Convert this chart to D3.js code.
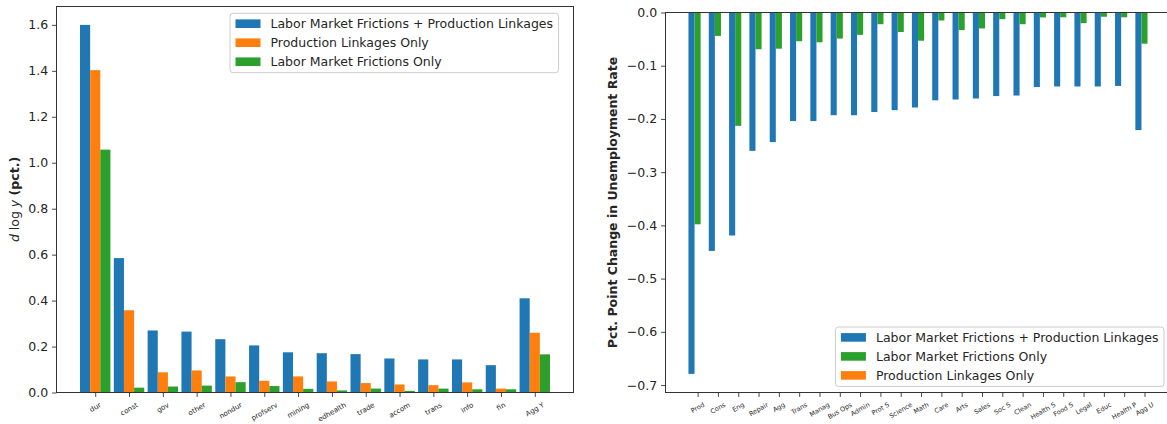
<!DOCTYPE html>
<html>
<head>
<meta charset="utf-8">
<script src="https://cdn.jsdelivr.net/npm/d3@7"></script>
<style>
  body { margin: 0; background: #fff; }
  svg { display: block; }
  text { font-family: "DejaVu Sans", sans-serif; fill: #262626; }
  .cat-labels text { text-rendering: geometricPrecision; }
</style>
</head>
<body>
<svg id="chart" width="1167" height="424"></svg>
<script>
// ---- Output response by sector (left panel) ----
const sectors = ["dur", "const", "gov", "other", "nondur", "profserv", "mining",
                 "edhealth", "trade", "accom", "trans", "info", "fin", "Agg Y"];
const outputBoth      = [1.600, 0.585, 0.270, 0.265, 0.232, 0.205, 0.175, 0.171, 0.167, 0.148, 0.144, 0.144, 0.119, 0.410];
const outputLinkages  = [1.403, 0.358, 0.088, 0.096, 0.070, 0.051, 0.070, 0.048, 0.041, 0.035, 0.032, 0.044, 0.017, 0.260];
const outputFrictions = [1.057, 0.021, 0.026, 0.030, 0.045, 0.028, 0.016, 0.009, 0.017, 0.007, 0.017, 0.014, 0.014, 0.166];
const outputTicks = [0.0, 0.2, 0.4, 0.6, 0.8, 1.0, 1.2, 1.4, 1.6];

// ---- Unemployment response by occupation (right panel) ----
const occupations = ["Prod", "Cons", "Eng", "Repair", "Agg", "Trans", "Manag", "Bus Ops",
                     "Admin", "Prot S", "Science", "Math", "Care", "Arts", "Sales", "Soc S",
                     "Clean", "Health S", "Food S", "Legal", "Educ", "Health P", "Agg U"];
const unempBoth      = [-0.679, -0.448, -0.419, -0.260, -0.2435, -0.204, -0.204, -0.193, -0.193, -0.187, -0.1835, -0.1785,
                        -0.165, -0.1635, -0.1616, -0.157, -0.156, -0.140, -0.139, -0.139, -0.139, -0.138, -0.221];
const unempFrictions = [-0.398, -0.044, -0.213, -0.069, -0.068, -0.054, -0.056, -0.049, -0.042, -0.022, -0.0367, -0.053,
                        -0.015, -0.033, -0.030, -0.0125, -0.022, -0.0093, -0.009, -0.020, -0.008, -0.009, -0.0586];
const unempLinkages  = [0, 0, 0, 0, 0, 0, 0, 0, 0, 0, 0, 0, 0, 0, 0, 0, 0, 0, 0, 0, 0, 0, 0];
const unempTicks = [0.0, -0.1, -0.2, -0.3, -0.4, -0.5, -0.6, -0.7];

const nameBoth = "Labor Market Frictions + Production Linkages";
const nameLinkages = "Production Linkages Only";
const nameFrictions = "Labor Market Frictions Only";

const BLUE = "#1f77b4", ORANGE = "#ff7f0e", GREEN = "#2ca02c";
const SPINE = "#333";
const FONT = 12.5;
const BAR_W = 0.3;

const svg = d3.select("#chart");

function drawBars(g, x, y, values, offset, color) {
  g.append("g").selectAll("rect").data(values).join("rect")
    .attr("x", (d, i) => x(i + offset - BAR_W / 2))
    .attr("width", (d, i) => x(i + offset + BAR_W / 2) - x(i + offset - BAR_W / 2))
    .attr("y", d => Math.min(y(d), y(0)))
    .attr("height", d => Math.abs(y(d) - y(0)))
    .attr("fill", color);
}

function styleAxis(g) {
  g.select(".domain").remove();
  g.selectAll(".tick line").attr("stroke", SPINE).attr("stroke-width", 0.9);
  g.selectAll(".tick text").attr("fill", "#262626");
}

// category labels tilted 30°, their rotated box centred under each tick
function rotateLabels(x, baseY, labels, size) {
  const lg = svg.append("g").attr("class", "cat-labels");
  labels.forEach((name, i) => {
    const t = lg.append("text")
      .attr("font-size", size)
      .attr("text-anchor", "middle")
      .attr("dy", "0.35em")
      .text(name);
    const len = t.node().getComputedTextLength();
    const H = len * 0.5 + size * 1.1 * Math.cos(Math.PI / 6);
    t.attr("transform", "translate(" + x(i).toFixed(2) + "," + (baseY + 8.4 + H / 2).toFixed(2) + ") rotate(-30)");
  });
}

function drawLegend(x0, y0, entries) {
  const g = svg.append("g");
  const box = g.append("rect").attr("x", x0).attr("y", y0).attr("rx", 3).attr("ry", 3)
    .attr("fill", "#fff").attr("fill-opacity", 0.8).attr("stroke", "#ccc").attr("stroke-width", 1);
  let maxW = 0;
  entries.forEach((e, k) => {
    const cy = y0 + 10.4 + k * 19;
    g.append("rect").attr("x", x0 + 5.5).attr("y", cy - 4.3).attr("width", 25).attr("height", 8.6).attr("fill", e.color);
    const t = g.append("text").attr("x", x0 + 40.5).attr("y", cy).attr("dy", "0.36em")
      .attr("font-size", FONT).text(e.name);
    maxW = Math.max(maxW, t.node().getComputedTextLength());
  });
  box.attr("width", maxW + 46).attr("height", entries.length * 19 + 2.4);
  return g;
}

// ================= Left panel =================
{
  const L = { left: 56.5, right: 573.5, top: 6.5, bottom: 392.5 };
  const x = d3.scaleLinear().domain([-1.145, sectors.length - 1 + 1.145]).range([L.left, L.right]);
  const y = d3.scaleLinear().domain([0, 1.68]).range([L.bottom, L.top]);
  const g = svg.append("g");

  drawBars(g, x, y, outputBoth, -BAR_W, BLUE);
  drawBars(g, x, y, outputLinkages, 0, ORANGE);
  drawBars(g, x, y, outputFrictions, BAR_W, GREEN);

  const ya = svg.append("g").attr("transform", `translate(${L.left},0)`)
    .call(d3.axisLeft(y).tickValues(outputTicks).tickFormat(d3.format(".1f"))
      .tickSize(4.4).tickPadding(4).tickSizeOuter(0));
  styleAxis(ya);
  ya.selectAll(".tick text").attr("font-size", FONT);

  const xa = svg.append("g").attr("transform", `translate(0,${L.bottom})`)
    .call(d3.axisBottom(x).tickValues(d3.range(sectors.length)).tickFormat("")
      .tickSize(4.4).tickSizeOuter(0));
  styleAxis(xa);
  rotateLabels(x, L.bottom, sectors, 7);

  svg.append("rect").attr("x", L.left).attr("y", L.top)
    .attr("width", L.right - L.left).attr("height", L.bottom - L.top)
    .attr("fill", "none").attr("stroke", SPINE).attr("stroke-width", 1);

  const lab = svg.append("text").attr("transform", `translate(18.5,${(L.top + L.bottom) / 2}) rotate(-90)`)
    .attr("text-anchor", "middle").attr("font-size", FONT);
  lab.append("tspan").attr("font-style", "italic").text("d");
  lab.append("tspan").text(" log ");
  lab.append("tspan").attr("font-style", "italic").text("y");
  lab.append("tspan").attr("font-weight", "bold").text(" (pct.)");

  drawLegend(230, 13.3, [
    { name: nameBoth, color: BLUE },
    { name: nameLinkages, color: ORANGE },
    { name: nameFrictions, color: GREEN }
  ]);
}

// ================= Right panel =================
{
  const R = { left: 665.5, right: 1170.5, top: 12.5, bottom: 392.5 };
  const x = d3.scaleLinear().domain([-1.58, occupations.length - 1 + 1.28]).range([R.left, R.right]);
  const y = d3.scaleLinear().domain([-0.714, 0]).range([R.bottom, R.top]);
  const g = svg.append("g");

  drawBars(g, x, y, unempBoth, -BAR_W, BLUE);
  drawBars(g, x, y, unempFrictions, 0, GREEN);
  drawBars(g, x, y, unempLinkages, BAR_W, ORANGE);

  const ya = svg.append("g").attr("transform", `translate(${R.left},0)`)
    .call(d3.axisLeft(y).tickValues(unempTicks).tickFormat(d3.format(".1f"))
      .tickSize(4.4).tickPadding(4).tickSizeOuter(0));
  styleAxis(ya);
  ya.selectAll(".tick text").attr("font-size", FONT);

  const xa = svg.append("g").attr("transform", `translate(0,${R.bottom})`)
    .call(d3.axisBottom(x).tickValues(d3.range(occupations.length)).tickFormat("")
      .tickSize(4.4).tickSizeOuter(0));
  styleAxis(xa);
  rotateLabels(x, R.bottom, occupations, 6.5);

  svg.append("rect").attr("x", R.left).attr("y", R.top)
    .attr("width", R.right - R.left).attr("height", R.bottom - R.top)
    .attr("fill", "none").attr("stroke", SPINE).attr("stroke-width", 1);

  svg.append("text").attr("transform", `translate(617,${(R.top + R.bottom) / 2}) rotate(-90)`)
    .attr("text-anchor", "middle").attr("font-size", FONT).attr("font-weight", "bold")
    .text("Pct. Point Change in Unemployment Rate");

  const leg = drawLegend(0, 0, [
    { name: nameBoth, color: BLUE },
    { name: nameFrictions, color: GREEN },
    { name: nameLinkages, color: ORANGE }
  ]);
  const bb = leg.node().getBBox();
  leg.attr("transform", `translate(${1164 - bb.width},${386.4 - bb.height})`);
}
</script>
</body>
</html>
